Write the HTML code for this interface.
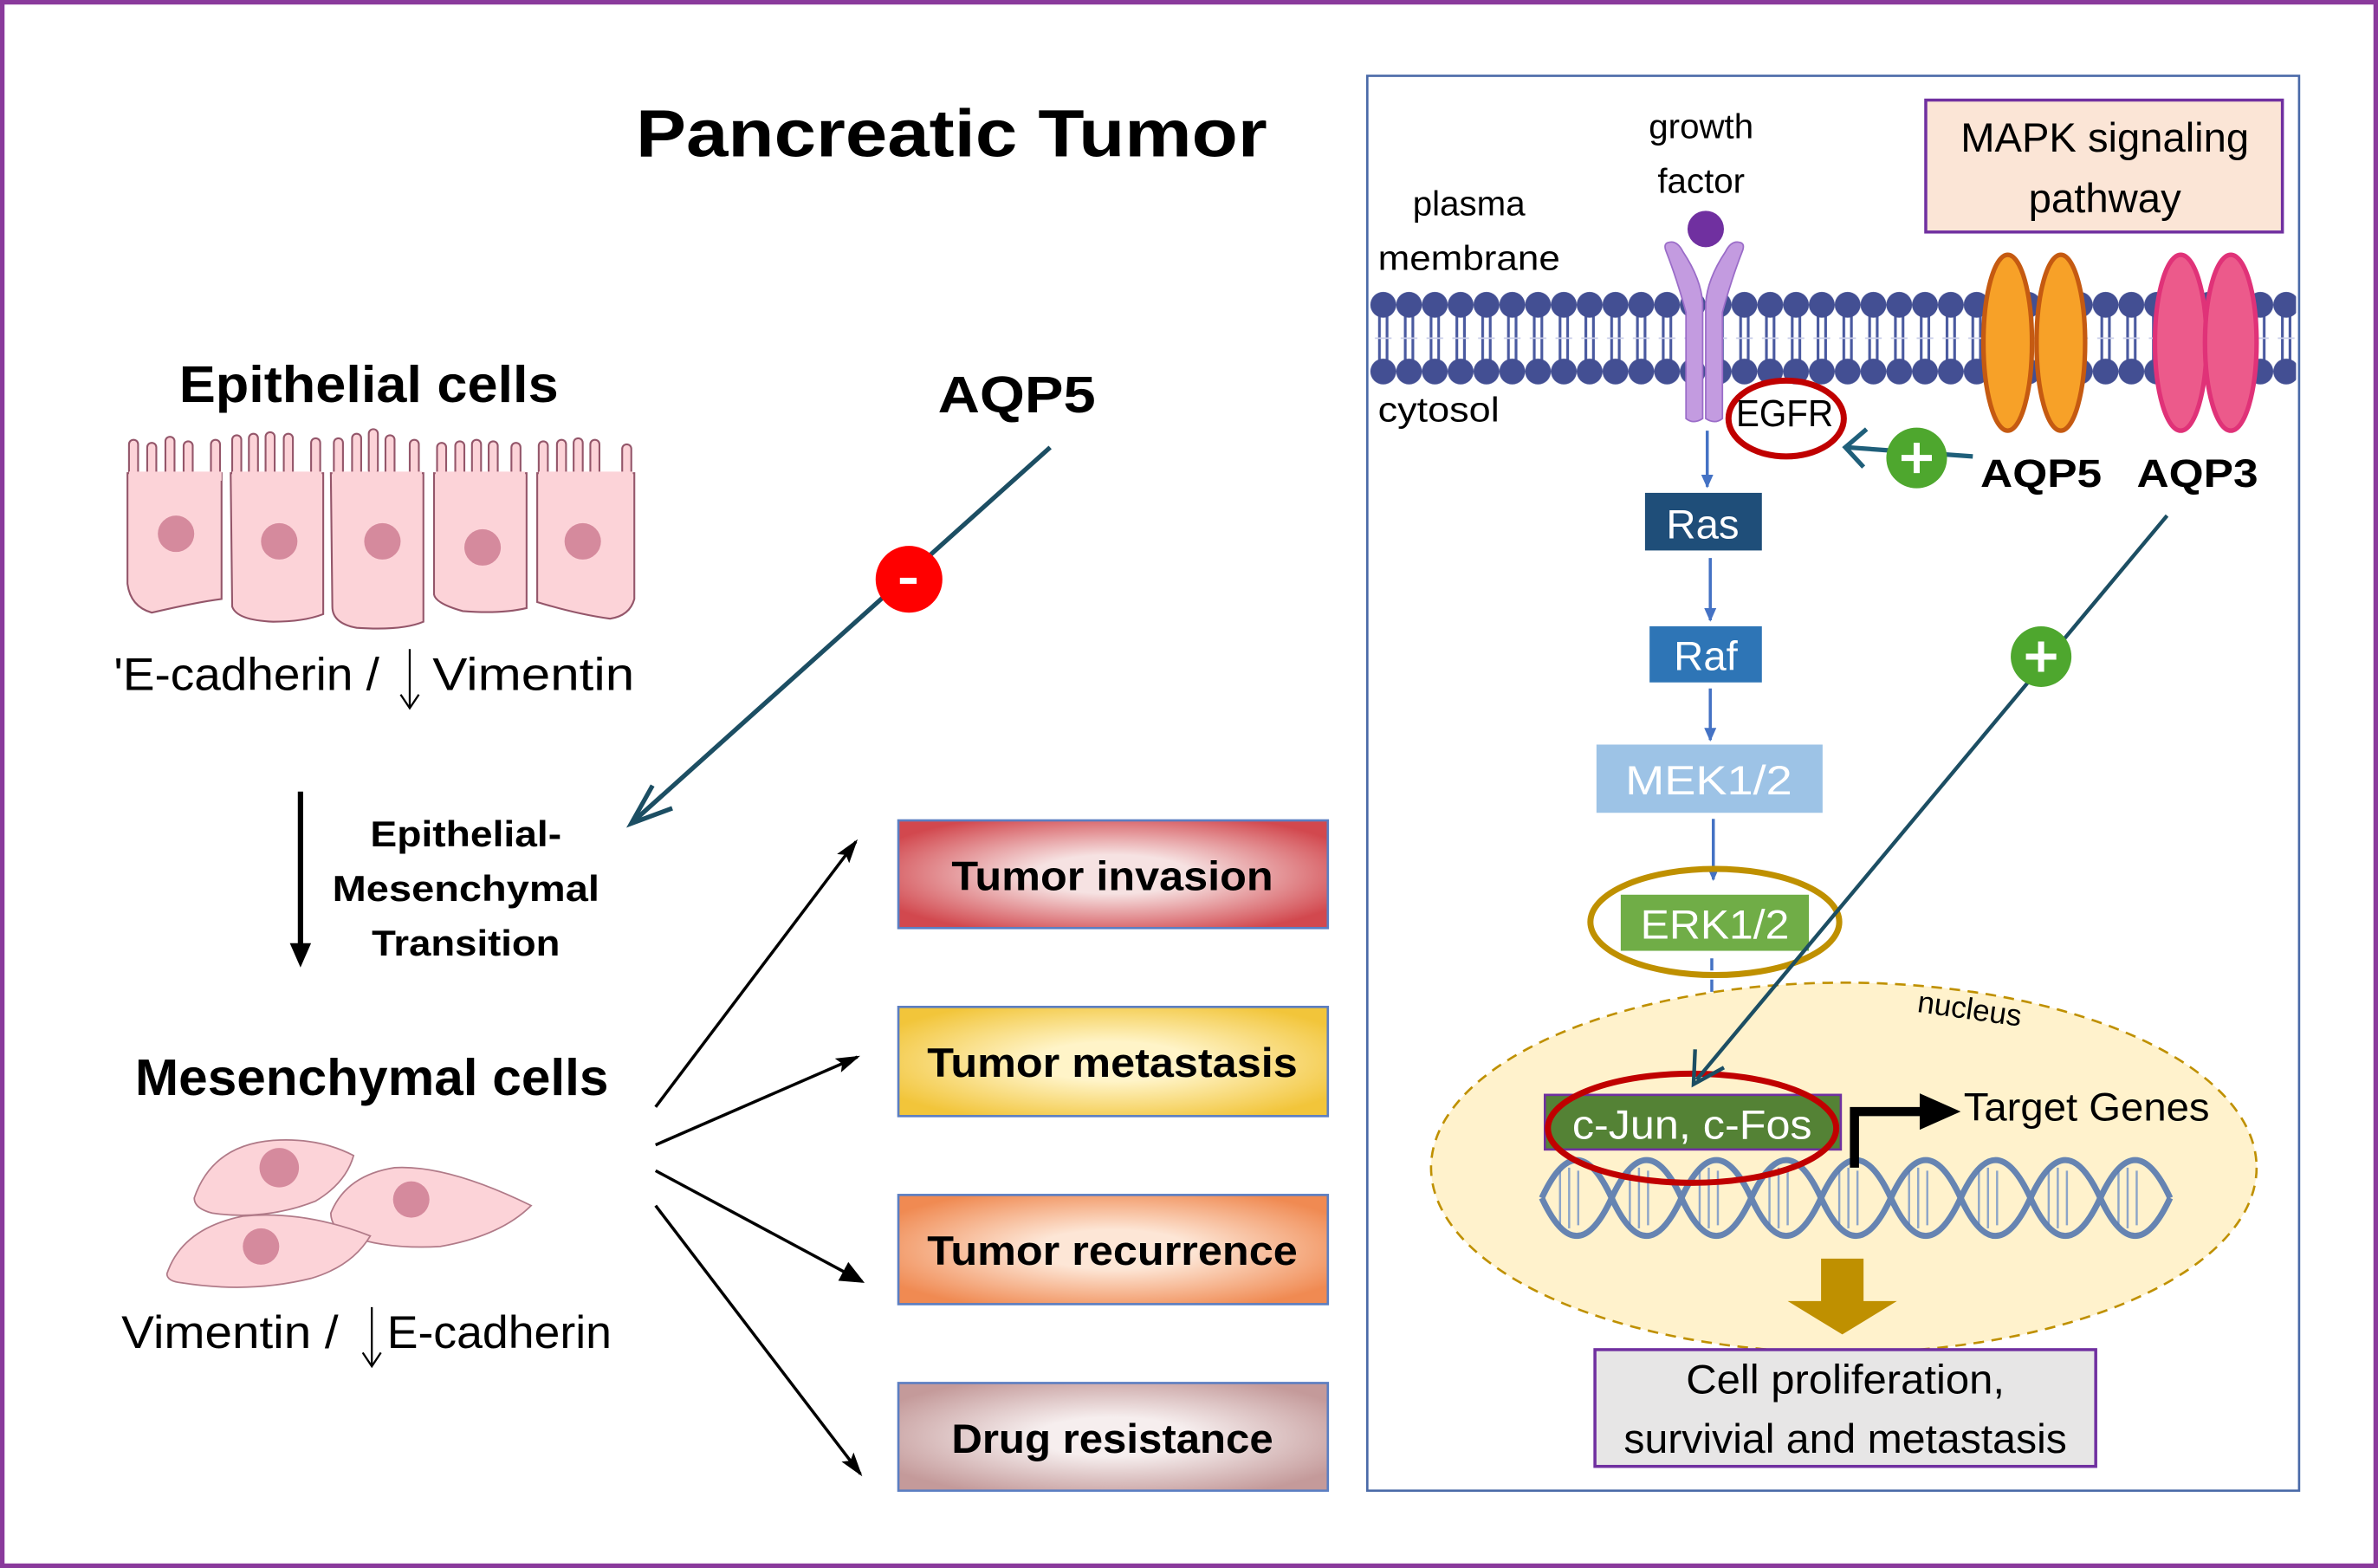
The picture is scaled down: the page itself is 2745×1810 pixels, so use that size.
<!DOCTYPE html>
<html><head><meta charset="utf-8"><style>
html,body{margin:0;padding:0;background:#fff;}
svg{display:block;}
text{font-family:"Liberation Sans",sans-serif;}
</style></head><body>
<svg width="2745" height="1810" viewBox="0 0 1567 1034" preserveAspectRatio="none" xmlns="http://www.w3.org/2000/svg">
<defs>
<radialGradient id="gRed" cx="50%" cy="50%" r="60%"><stop offset="0.3" stop-color="#f6e2e2"/><stop offset="1" stop-color="#d2484e"/></radialGradient>
<radialGradient id="gYel" cx="50%" cy="50%" r="60%"><stop offset="0.3" stop-color="#fff4c8"/><stop offset="1" stop-color="#f2c53a"/></radialGradient>
<radialGradient id="gOr" cx="50%" cy="50%" r="60%"><stop offset="0.3" stop-color="#fde6d6"/><stop offset="1" stop-color="#f08a52"/></radialGradient>
<radialGradient id="gBr" cx="50%" cy="50%" r="60%"><stop offset="0.3" stop-color="#f6eeee"/><stop offset="1" stop-color="#c49a9a"/></radialGradient>
<pattern id="mem" x="903" y="192" width="17" height="62" patternUnits="userSpaceOnUse">
<line x1="6" y1="12" x2="6" y2="50" stroke="#4a5aa0" stroke-width="1.8"/>
<line x1="11" y1="12" x2="11" y2="50" stroke="#4a5aa0" stroke-width="1.8"/>
<line x1="3" y1="31" x2="14" y2="31" stroke="#c8cce8" stroke-width="1"/>
<circle cx="8.5" cy="9" r="8.5" fill="#434f93"/>
<circle cx="8.5" cy="53" r="8.5" fill="#434f93"/>
</pattern>
<marker id="ab" markerWidth="10" markerHeight="10" refX="8" refY="5" orient="auto" markerUnits="userSpaceOnUse"><path d="M0,1 L9,5 L0,9 Z" fill="#4472c4"/></marker>
<marker id="ak" markerWidth="16" markerHeight="12" refX="14" refY="6" orient="auto" markerUnits="userSpaceOnUse"><path d="M0,1 L16,6 L0,11 L3,6 Z" fill="#000"/></marker>
<marker id="akb" markerWidth="16" markerHeight="14" refX="14" refY="7" orient="auto" markerUnits="userSpaceOnUse"><path d="M0,0 L16,7 L0,14 Z" fill="#000"/></marker>
</defs>
<rect x="0" y="0" width="1567" height="1034" fill="#fff"/>
<rect x="1.5" y="1.5" width="1564" height="1031" fill="none" stroke="#8a3a9c" stroke-width="3"/>

<!-- LEFT -->
<text x="627" y="103" font-size="44" font-weight="bold" text-anchor="middle" textLength="416" lengthAdjust="spacingAndGlyphs">Pancreatic Tumor</text>
<text x="243" y="265" font-size="34" font-weight="bold" text-anchor="middle" textLength="250" lengthAdjust="spacingAndGlyphs">Epithelial cells</text>
<text x="670" y="272" font-size="34" font-weight="bold" text-anchor="middle" textLength="104" lengthAdjust="spacingAndGlyphs">AQP5</text>

<!-- epithelial cells -->
<g fill="#fcd3d8" stroke="#94566a" stroke-width="1.2">
<g>
<rect x="85" y="290" width="6" height="30" rx="3"/><rect x="97" y="292" width="6" height="30" rx="3"/><rect x="109" y="288" width="6" height="30" rx="3"/><rect x="121" y="291" width="6" height="30" rx="3"/><rect x="139" y="290" width="6" height="30" rx="3"/>
<rect x="153" y="287" width="6" height="30" rx="3"/><rect x="164" y="286" width="6" height="30" rx="3"/><rect x="175" y="285" width="6" height="30" rx="3"/><rect x="187" y="286" width="6" height="30" rx="3"/><rect x="205" y="289" width="6" height="30" rx="3"/>
<rect x="220" y="289" width="6" height="30" rx="3"/><rect x="232" y="286" width="6" height="30" rx="3"/><rect x="243" y="283" width="6" height="30" rx="3"/><rect x="254" y="287" width="6" height="30" rx="3"/><rect x="270" y="290" width="6" height="30" rx="3"/>
<rect x="288" y="292" width="6" height="30" rx="3"/><rect x="300" y="291" width="6" height="30" rx="3"/><rect x="311" y="290" width="6" height="30" rx="3"/><rect x="322" y="291" width="6" height="30" rx="3"/><rect x="337" y="292" width="6" height="30" rx="3"/>
<rect x="355" y="291" width="6" height="30" rx="3"/><rect x="367" y="290" width="6" height="30" rx="3"/><rect x="378" y="289" width="6" height="30" rx="3"/><rect x="389" y="290" width="6" height="30" rx="3"/><rect x="410" y="293" width="6" height="30" rx="3"/>
</g>
<path d="M84,312 H146 V395 Q130,397 100,404 Q86,400 84,385 Z"/>
<path d="M152,312 H213 V405 Q200,410 180,410 Q156,409 153,400 Z"/>
<path d="M218,312 H279 V410 Q265,416 235,414 Q219,411 219,400 Z"/>
<path d="M286,312 H347 V401 Q330,405 305,403 Q287,398 286,392 Z"/>
<path d="M354,312 H418 V395 Q415,406 402,408 Q380,405 354,397 Z"/>
</g>
<g fill="#fcd3d8">
<rect x="85" y="311" width="61" height="6"/><rect x="153" y="311" width="59" height="6"/><rect x="219" y="311" width="59" height="6"/><rect x="287" y="311" width="59" height="6"/><rect x="355" y="311" width="62" height="6"/>
</g>
<g fill="#d58a9d">
<circle cx="116" cy="352" r="12"/><circle cx="184" cy="357" r="12"/><circle cx="252" cy="357" r="12"/><circle cx="318" cy="361" r="12"/><circle cx="384" cy="357" r="12"/>
</g>
<text x="75" y="455" font-size="30" textLength="175" lengthAdjust="spacingAndGlyphs">'E-cadherin /</text>
<line x1="270" y1="428" x2="270" y2="466" stroke="#000" stroke-width="1.3"/>
<path d="M264,458 L270,467 L276,458" fill="none" stroke="#000" stroke-width="1.3"/>
<text x="285" y="455" font-size="30" textLength="133" lengthAdjust="spacingAndGlyphs">Vimentin</text>

<!-- EMT arrow -->
<line x1="198" y1="522" x2="198" y2="624" stroke="#000" stroke-width="3.5"/>
<path d="M191,622 L205,622 L198,638 Z" fill="#000"/>
<g font-size="24" font-weight="bold" text-anchor="middle">
<text x="307" y="558" textLength="126" lengthAdjust="spacingAndGlyphs">Epithelial-</text>
<text x="307" y="594" textLength="176" lengthAdjust="spacingAndGlyphs">Mesenchymal</text>
<text x="307" y="630" textLength="124" lengthAdjust="spacingAndGlyphs">Transition</text>
</g>

<!-- AQP5 inhibitory arrow -->
<line x1="692" y1="295" x2="417" y2="542" stroke="#1c4e63" stroke-width="3"/>
<path d="M430,518 L416,543 L443,533" fill="none" stroke="#1c4e63" stroke-width="3"/>
<circle cx="599" cy="382" r="22" fill="#ff0000"/>
<rect x="593" y="381" width="11" height="4" fill="#fff"/>

<text x="245" y="722" font-size="34" font-weight="bold" text-anchor="middle" textLength="312" lengthAdjust="spacingAndGlyphs">Mesenchymal cells</text>
<g fill="#fcd3d8" stroke="#b07a88" stroke-width="1">
<path d="M128,790 Q140,755 180,752 Q210,750 233,762 Q228,780 208,792 Q175,805 140,800 Q128,797 128,790 Z"/>
<path d="M218,800 Q228,775 260,770 Q295,768 350,795 Q330,815 290,822 Q255,824 230,815 Q218,810 218,800 Z"/>
<path d="M110,840 Q120,810 160,802 Q200,798 244,815 Q232,835 205,843 Q165,853 120,846 Q110,845 110,840 Z"/>
</g>
<g fill="#d58a9d">
<ellipse cx="184" cy="770" rx="13" ry="13"/><ellipse cx="271" cy="791" rx="12" ry="12"/><ellipse cx="172" cy="822" rx="12" ry="12"/>
</g>
<text x="80" y="889" font-size="30" textLength="143" lengthAdjust="spacingAndGlyphs">Vimentin /</text>
<line x1="245" y1="862" x2="245" y2="900" stroke="#000" stroke-width="1.3"/>
<path d="M239,892 L245,901 L251,892" fill="none" stroke="#000" stroke-width="1.3"/>
<text x="255" y="889" font-size="30" textLength="148" lengthAdjust="spacingAndGlyphs">E-cadherin</text>

<!-- fan arrows -->
<g stroke="#000" stroke-width="2">
<line x1="432" y1="730" x2="564" y2="555" marker-end="url(#ak)"/>
<line x1="432" y1="755" x2="565" y2="697" marker-end="url(#ak)"/>
<line x1="432" y1="772" x2="568" y2="845" marker-end="url(#akb)"/>
<line x1="432" y1="795" x2="567" y2="972" marker-end="url(#ak)"/>
</g>

<!-- outcome boxes -->
<g stroke="#5b7ec2" stroke-width="1.5">
<rect x="592" y="541" width="283" height="71" fill="url(#gRed)"/>
<rect x="592" y="664" width="283" height="72" fill="url(#gYel)"/>
<rect x="592" y="788" width="283" height="72" fill="url(#gOr)"/>
<rect x="592" y="912" width="283" height="71" fill="url(#gBr)"/>
</g>
<g font-size="27" font-weight="bold" text-anchor="middle">
<text x="733" y="587" textLength="212" lengthAdjust="spacingAndGlyphs">Tumor invasion</text>
<text x="733" y="710" textLength="244" lengthAdjust="spacingAndGlyphs">Tumor metastasis</text>
<text x="733" y="834" textLength="244" lengthAdjust="spacingAndGlyphs">Tumor recurrence</text>
<text x="733" y="958" textLength="212" lengthAdjust="spacingAndGlyphs">Drug resistance</text>
</g>

<!-- RIGHT PANEL -->
<rect x="901" y="50" width="614" height="933" fill="#fff" stroke="#4a6aa8" stroke-width="1.5"/>
<rect x="903" y="192" width="610" height="62" fill="url(#mem)"/>

<text x="968" y="142" font-size="23" text-anchor="middle">plasma</text>
<text x="968" y="178" font-size="23" text-anchor="middle" textLength="120" lengthAdjust="spacingAndGlyphs">membrane</text>
<text x="908" y="278" font-size="23" textLength="80" lengthAdjust="spacingAndGlyphs">cytosol</text>
<text x="1121" y="91" font-size="23" text-anchor="middle">growth</text>
<text x="1121" y="127" font-size="23" text-anchor="middle">factor</text>

<g fill="#c39be0" stroke="#9a6cc8" stroke-width="1">
<path d="M1099,160 q6,-2 10,6 q12,18 13,34 v76 q-6,4 -11,0 v-70 q-6,-22 -13,-40 q-2,-5 1,-6 z"/>
<path d="M1147,160 q-6,-2 -10,6 q-12,18 -13,34 v76 q6,4 11,0 v-70 q6,-22 13,-40 q2,-5 -1,-6 z"/>
</g>
<circle cx="1124" cy="151" r="12" fill="#7030a0"/>

<rect x="1269" y="66" width="235" height="87" fill="#fbe5d6" stroke="#7030a0" stroke-width="2"/>
<text x="1387" y="100" font-size="27" text-anchor="middle" textLength="190" lengthAdjust="spacingAndGlyphs">MAPK signaling</text>
<text x="1387" y="140" font-size="27" text-anchor="middle">pathway</text>

<g stroke-width="3">
<ellipse cx="1323" cy="226" rx="16" ry="58" fill="#f7a128" stroke="#c55a11"/>
<ellipse cx="1358" cy="226" rx="16" ry="58" fill="#f7a128" stroke="#c55a11"/>
<ellipse cx="1437" cy="226" rx="17" ry="58" fill="#ec5a8b" stroke="#e03278"/>
<ellipse cx="1470" cy="226" rx="17" ry="58" fill="#ec5a8b" stroke="#e03278"/>
</g>

<ellipse cx="1177" cy="276" rx="38" ry="25" fill="none" stroke="#c00000" stroke-width="4"/>
<text x="1176" y="281" font-size="25" text-anchor="middle" textLength="64" lengthAdjust="spacingAndGlyphs">EGFR</text>

<line x1="1300" y1="301" x2="1217" y2="295" stroke="#1f5f7a" stroke-width="3"/>
<path d="M1230,283 L1216,295 L1228,308" fill="none" stroke="#1f5f7a" stroke-width="3"/>
<circle cx="1263" cy="302" r="20" fill="#4ea72e"/>
<path d="M1263,292 v20 M1253,302 h20" stroke="#fff" stroke-width="4"/>
<text x="1345" y="321" font-size="26" font-weight="bold" text-anchor="middle" textLength="80" lengthAdjust="spacingAndGlyphs">AQP5</text>
<text x="1448" y="321" font-size="26" font-weight="bold" text-anchor="middle" textLength="80" lengthAdjust="spacingAndGlyphs">AQP3</text>

<g stroke="#4472c4" stroke-width="2">
<line x1="1125" y1="284" x2="1125" y2="321" marker-end="url(#ab)"/>
<line x1="1127" y1="368" x2="1127" y2="409" marker-end="url(#ab)"/>
<line x1="1127" y1="454" x2="1127" y2="488" marker-end="url(#ab)"/>
<line x1="1129" y1="540" x2="1129" y2="580" marker-end="url(#ab)"/>
<line x1="1128" y1="632" x2="1128" y2="720" stroke-dasharray="8,6"/>
</g>
<rect x="1084" y="325" width="77" height="38" fill="#1f4e79"/>
<text x="1122" y="355" font-size="27" fill="#fff" text-anchor="middle">Ras</text>
<rect x="1087" y="413" width="74" height="37" fill="#2e75b6"/>
<text x="1124" y="442" font-size="27" fill="#fff" text-anchor="middle">Raf</text>
<rect x="1052" y="491" width="149" height="45" fill="#9dc3e6"/>
<text x="1126" y="524" font-size="27" fill="#fff" text-anchor="middle" textLength="110" lengthAdjust="spacingAndGlyphs">MEK1/2</text>
<rect x="1068" y="590" width="124" height="37" fill="#70ad47"/>
<text x="1130" y="619" font-size="27" fill="#fff" text-anchor="middle" textLength="98" lengthAdjust="spacingAndGlyphs">ERK1/2</text>
<ellipse cx="1130" cy="608" rx="82" ry="35" fill="none" stroke="#bf9000" stroke-width="4"/>

<ellipse cx="1215" cy="770" rx="272" ry="122" fill="#fff2cc" stroke="#bf9000" stroke-width="1.5" stroke-dasharray="7,5"/>
<text x="1297" y="672" font-size="20" text-anchor="middle" transform="rotate(8 1297 672)">nucleus</text>

<!-- DNA -->
<g stroke="#7a98c8" stroke-width="1.4" opacity="0.85">
<path d="M1028,772 v36 M1034,770 v40 M1040,772 v36 M1074,772 v36 M1080,770 v40 M1086,772 v36 M1120,772 v36 M1126,770 v40 M1132,772 v36 M1166,772 v36 M1172,770 v40 M1178,772 v36 M1212,772 v36 M1218,770 v40 M1224,772 v36 M1258,772 v36 M1264,770 v40 M1270,772 v36 M1304,772 v36 M1310,770 v40 M1316,772 v36 M1350,772 v36 M1356,770 v40 M1362,772 v36 M1396,772 v36 M1402,770 v40 M1408,772 v36"/>
</g>
<g fill="none" stroke="#5679b0" stroke-width="4" opacity="0.9">
<path d="M1016,790 q23,-50 46,0 t46,0 t46,0 t46,0 t46,0 t46,0 t46,0 t46,0 t46,0"/>
<path d="M1016,790 q23,50 46,0 t46,0 t46,0 t46,0 t46,0 t46,0 t46,0 t46,0 t46,0"/>
</g>

<rect x="1018" y="722" width="195" height="36" fill="#548235" stroke="#7030a0" stroke-width="1.5"/>
<text x="1115" y="751" font-size="27" fill="#fff" text-anchor="middle" textLength="158" lengthAdjust="spacingAndGlyphs">c-Jun, c-Fos</text>
<ellipse cx="1115" cy="744" rx="95" ry="36" fill="none" stroke="#c00000" stroke-width="4"/>

<line x1="1428" y1="340" x2="1118" y2="712" stroke="#1c4e63" stroke-width="2.5"/>
<path d="M1117,692 L1116,715 L1136,704" fill="none" stroke="#1c4e63" stroke-width="2.5"/>
<circle cx="1345" cy="433" r="20" fill="#4ea72e"/>
<path d="M1345,423 v20 M1335,433 h20" stroke="#fff" stroke-width="4"/>

<path d="M1222,770 V733 H1268" fill="none" stroke="#000" stroke-width="6"/>
<path d="M1265,721 L1292,733 L1265,745 Z" fill="#000"/>
<text x="1294" y="739" font-size="26" textLength="162" lengthAdjust="spacingAndGlyphs">Target Genes</text>

<path d="M1200,830 H1228 V858 H1250 L1214,880 L1178,858 H1200 Z" fill="#bf9000"/>

<rect x="1051" y="890" width="330" height="77" fill="#e7e6e6" stroke="#7030a0" stroke-width="2"/>
<text x="1216" y="919" font-size="27" text-anchor="middle" textLength="210" lengthAdjust="spacingAndGlyphs">Cell proliferation,</text>
<text x="1216" y="958" font-size="27" text-anchor="middle" textLength="292" lengthAdjust="spacingAndGlyphs">survivial and metastasis</text>
</svg>
</body></html>
